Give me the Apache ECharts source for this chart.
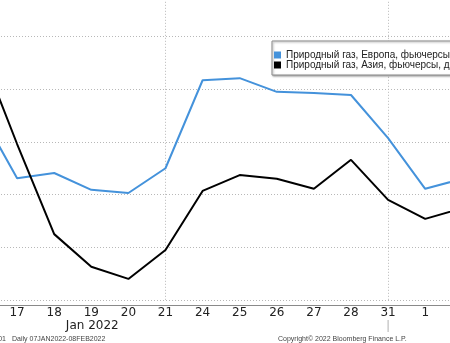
<!DOCTYPE html>
<html>
<head>
<meta charset="utf-8">
<script src="https://cdn.jsdelivr.net/npm/echarts@6/dist/echarts.min.js"></script>
<style>
  html, body { margin: 0; padding: 0; background: #fff; }
  #chart { width: 450px; height: 343px; }
</style>
</head>
<body>
<div id="chart"></div>
<script>
// Trading days, 14 Jan – 2 Feb 2022
const days = ['14', '17', '18', '19', '20', '21', '24', '25', '26', '27', '28', '31', '1', '2'];
// Natural gas futures, Europe
const europe = [95.7, 83.1, 84.1, 80.9, 80.3, 85.0, 101.7, 102.1, 99.5, 99.3, 98.9, 90.7, 81.1, 83.0];
// Natural gas futures, Asia
const asia = [107.6, 89.6, 72.5, 66.3, 64.0, 69.5, 80.7, 83.7, 83.0, 81.1, 86.6, 79.0, 75.4, 77.4];
// Days that carry a vertical grid line
const weekMarks = ['21', '31'];
const seriesNames = [
  'Природный газ, Европа, фьючерсы, евро/МВт·ч',
  'Природный газ, Азия, фьючерсы, долл./млн БТЕ'
];

const chart = echarts.init(document.getElementById('chart'), null, { renderer: 'canvas' });

const dotted = { color: '#b8b8b8', width: 1, type: [1, 2] };

chart.setOption({
  animation: false,
  backgroundColor: '#ffffff',
  grid: {
    left: -20, right: -12.3, top: -16.2, bottom: 43,
    containLabel: false,
    outerBoundsMode: 'none'
  },
  legend: {
    left: 272,
    top: 41,
    orient: 'vertical',
    icon: 'rect',
    itemWidth: 7,
    itemHeight: 7,
    itemGap: 0,
    padding: [9, 4, 5, 2],
    backgroundColor: '#ffffff',
    borderColor: '#8c8c8c',
    borderWidth: 1,
    shadowColor: 'rgba(0,0,0,0.35)',
    shadowBlur: 2,
    shadowOffsetX: 1,
    shadowOffsetY: 1,
    textStyle: {
      fontFamily: 'Liberation Sans',
      fontSize: 10,
      lineHeight: 10,
      color: '#222'
    },
    data: seriesNames
  },
  xAxis: {
    type: 'category',
    data: days,
    boundaryGap: false,
    offset: 5,
    axisLine: { lineStyle: { color: '#8a8a8a', width: 1 } },
    axisTick: { show: false },
    axisLabel: {
      interval: 0,
      margin: 2,
      fontFamily: 'DejaVu Sans',
      fontSize: 12,
      color: '#222'
    },
    splitLine: {
      show: true,
      interval: function (index, value) { return weekMarks.indexOf(value) >= 0; },
      lineStyle: dotted
    }
  },
  yAxis: {
    type: 'value',
    min: 60,
    max: 120,
    interval: 10,
    axisLine: { show: false },
    axisTick: { show: false },
    axisLabel: { show: false },
    splitLine: { show: true, lineStyle: dotted }
  },
  series: [
    {
      name: seriesNames[0],
      type: 'line',
      data: europe,
      symbol: 'none',
      color: '#4492db',
      lineStyle: { width: 2, color: '#4492db' }
    },
    {
      name: seriesNames[1],
      type: 'line',
      data: asia,
      symbol: 'none',
      color: '#000000',
      lineStyle: { width: 2, color: '#000000' }
    }
  ]
});

// Month separator and footer text
const xMonthEnd = chart.convertToPixel({ xAxisIndex: 0 }, '31');
const xMonthMid = chart.convertToPixel({ xAxisIndex: 0 }, '19');
chart.setOption({
  graphic: [
    {
      type: 'line',
      shape: { x1: xMonthEnd, y1: 320, x2: xMonthEnd, y2: 332 },
      style: { stroke: '#b0b0b0', lineWidth: 1 }
    },
    {
      type: 'text',
      x: xMonthMid + 1,
      y: 326,
      style: {
        text: 'Jan 2022',
        fontFamily: 'DejaVu Sans',
        fontSize: 12,
        fill: '#222',
        align: 'center',
        verticalAlign: 'middle'
      }
    },
    {
      type: 'text',
      x: 6,
      y: 339,
      style: {
        text: '01',
        fontFamily: 'Liberation Sans',
        fontSize: 7,
        fill: '#444',
        align: 'right',
        verticalAlign: 'middle'
      }
    },
    {
      type: 'text',
      x: 12,
      y: 339,
      style: {
        text: 'Daily 07JAN2022-08FEB2022',
        fontFamily: 'Liberation Sans',
        fontSize: 7,
        fill: '#444',
        align: 'left',
        verticalAlign: 'middle'
      }
    },
    {
      type: 'text',
      x: 278,
      y: 339,
      style: {
        text: 'Copyright© 2022 Bloomberg Finance L.P.',
        fontFamily: 'Liberation Sans',
        fontSize: 7,
        fill: '#444',
        align: 'left',
        verticalAlign: 'middle'
      }
    }
  ]
});
</script>
</body>
</html>
